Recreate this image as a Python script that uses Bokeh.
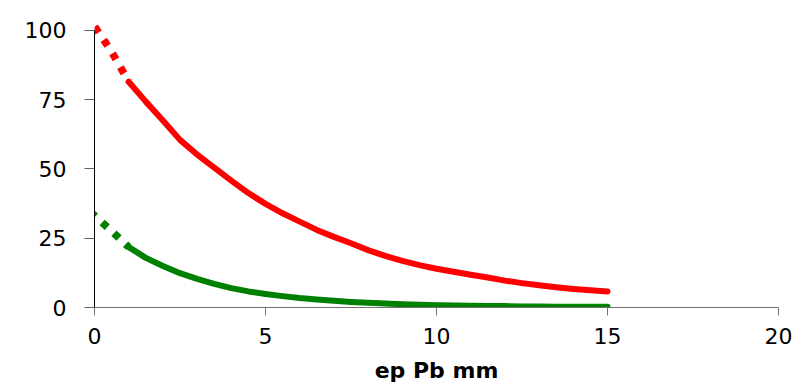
from bokeh.plotting import figure
from bokeh.models import FixedTicker, Range1d
from bokeh.embed import file_html
from bokeh.resources import INLINE

# Data
x_dot_red = [-0.27, 0.0, 0.5, 1.0]
y_dot_red = [106.0, 101.5, 92.3, 81.5]
x_dot_green = [-0.13, 0.0, 0.5, 1.0]
y_dot_green = [34.5, 33.2, 27.6, 21.8]

x_solid = [1.0, 1.5, 2.0, 2.5, 3.0, 3.5, 4.0, 4.5, 5.0, 5.5, 6.0, 6.5, 7.0, 7.5,
           8.0, 8.5, 9.0, 9.5, 10.0, 10.5, 11.0, 11.5, 12.0, 12.5, 13.0, 13.5,
           14.0, 14.5, 15.0]
y_red = [81.5, 74.3, 67.5, 60.5, 55.2, 50.5, 45.8, 41.3, 37.4, 34.0, 31.0, 28.0,
         25.5, 23.2, 20.7, 18.6, 16.8, 15.3, 14.0, 12.9, 11.8, 10.8, 9.7, 8.8,
         8.0, 7.3, 6.7, 6.2, 5.8]
y_green = [21.8, 17.9, 15.0, 12.4, 10.3, 8.5, 7.0, 5.8, 4.9, 4.1, 3.4, 2.9, 2.4,
           2.0, 1.7, 1.4, 1.2, 1.0, 0.8, 0.7, 0.6, 0.5, 0.5, 0.4, 0.4, 0.3, 0.3,
           0.3, 0.3]

x_ticks = [0, 5, 10, 15, 20]
y_ticks = [0, 25, 50, 75, 100]
x_label = "ep Pb mm"

FONT = "DejaVu Sans"

p = figure(width=796, height=390, output_backend="svg", toolbar_location=None,
           x_range=Range1d(0, 20), y_range=Range1d(0, 110.8),
           min_border_left=94, min_border_right=18, min_border_top=0,
           min_border_bottom=83)
p.outline_line_color = None
p.xgrid.visible = False
p.ygrid.visible = False
p.background_fill_color = "white"
p.border_fill_color = "white"

# Lines
p.line(x_dot_red, y_dot_red, line_color="#FF0000", line_width=7.5, line_dash="7 9")
p.line(x_dot_green, y_dot_green, line_color="#008000", line_width=7.5, line_dash="7 9")
p.line(x_solid, y_red, line_color="#FF0000", line_width=6, line_cap="round", line_join="round")
p.line(x_solid, y_green, line_color="#008000", line_width=6, line_cap="round", line_join="round")

# X axis
xa = p.xaxis[0]
xa.bounds = (0, 20)
xa.ticker = FixedTicker(ticks=x_ticks)
xa.axis_line_color = "#707070"
xa.major_tick_line_color = "#707070"
xa.major_tick_out = 8
xa.major_tick_in = 0
xa.minor_tick_out = 0
xa.minor_tick_in = 0
xa.major_label_text_font = FONT
xa.major_label_text_font_size = "22px"
xa.major_label_text_color = "black"
xa.major_label_standoff = 12
xa.axis_label = x_label
xa.axis_label_text_font = FONT
xa.axis_label_text_font_style = "bold"
xa.axis_label_text_font_size = "22px"
xa.axis_label_text_color = "black"
xa.axis_label_standoff = 11

# Y axis
ya = p.yaxis[0]
ya.bounds = (0, 100)
ya.ticker = FixedTicker(ticks=y_ticks)
ya.axis_line_color = "black"
ya.major_tick_line_color = "#606060"
ya.major_tick_out = 10
ya.major_tick_in = 0
ya.minor_tick_out = 0
ya.minor_tick_in = 0
ya.major_label_text_font = FONT
ya.major_label_text_font_size = "22px"
ya.major_label_text_color = "black"
ya.major_label_standoff = 18

open("out.html", "w").write(file_html(p, INLINE))
